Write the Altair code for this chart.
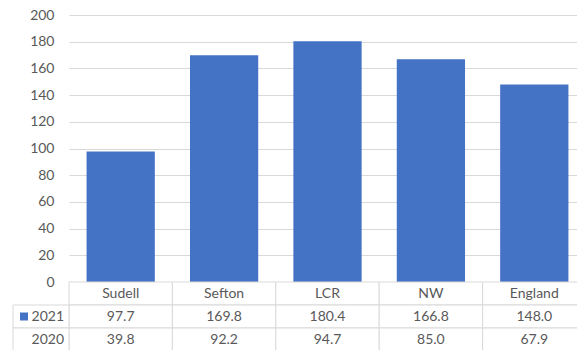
import altair as alt
import pandas as pd

categories = ["Sudell", "Sefton", "LCR", "NW", "England"]
values_2021 = [97.7, 169.8, 180.4, 166.8, 148.0]
values_2020 = [39.8, 92.2, 94.7, 85.0, 67.9]
series_names = ["2021", "2020"]
y_ticks = list(range(0, 201, 20))
row_order = ["head", "2021", "2020"]

FONT = "Lato"
TXT = "#595959"
GRID = "#d9d9d9"
BLUE = "#4472C4"
X_SPAN = 517      # full category span (runs past the right page edge)
PLOT_H = 267
TABLE_H = 69

bars_df = pd.DataFrame({"cat": categories, "value": values_2021})

rows = []
for i, c in enumerate(categories):
    rows.append({"cat": c, "row": "head", "label": c})
    rows.append({"cat": c, "row": "2021", "label": f"{values_2021[i]:.1f}"})
    rows.append({"cat": c, "row": "2020", "label": f"{values_2020[i]:.1f}"})
table_df = pd.DataFrame(rows)
side_df = pd.DataFrame({"row": series_names, "label": series_names})

bars = alt.Chart(bars_df).mark_bar(color=BLUE).encode(
    x=alt.X("cat:N", sort=categories, axis=None,
            scale=alt.Scale(paddingInner=0.34, paddingOuter=0.17, range=[0, X_SPAN])),
    y=alt.Y("value:Q", scale=alt.Scale(domain=[0, 200], nice=False, range=[PLOT_H, 0]),
            axis=alt.Axis(values=y_ticks, title=None, grid=True, gridColor=GRID,
                          domain=False, ticks=False, labelPadding=15,
                          labelFont=FONT, labelFontSize=14, labelColor=TXT)),
)

xs = alt.X("cat:N", sort=categories, axis=None,
           scale=alt.Scale(paddingInner=0, paddingOuter=0, range=[0, X_SPAN]))
ys = alt.Y("row:N", sort=row_order, axis=None,
           scale=alt.Scale(domain=row_order, range=[PLOT_H, PLOT_H + TABLE_H],
                           paddingInner=0, paddingOuter=0))

base = alt.Chart(table_df)
cells = base.mark_rect(fill="white", stroke=GRID, strokeWidth=1).encode(x=xs, y=ys)
texts = base.mark_text(font=FONT, fontSize=14, color=TXT).encode(
    x=xs, y=ys, text="label:N")

side = alt.Chart(side_df)
side_cells = side.mark_rect(fill="white", stroke=GRID, strokeWidth=1).encode(
    x=alt.value(-56), x2=alt.value(0), y=ys)
side_text = side.mark_text(font=FONT, fontSize=14, color=TXT, align="right").encode(
    x=alt.value(-5), y=ys, text="label:N")
legend_sq = alt.Chart(side_df[side_df["row"] == "2021"]).mark_square(
    color=BLUE, size=64, opacity=1).encode(x=alt.value(-45), y=ys)

table = alt.layer(cells, texts, side_cells, side_text, legend_sq)

chart = alt.layer(bars, table).resolve_scale(x="independent", y="independent").properties(
    width=508, height=PLOT_H + TABLE_H - 1,
    autosize=alt.AutoSizeParams(type="none"),
    padding={"left": 61, "top": 7, "right": 0, "bottom": 0},
).configure_view(stroke=None)

chart.save("out.html", embed_options={"renderer": "svg", "actions": False})
